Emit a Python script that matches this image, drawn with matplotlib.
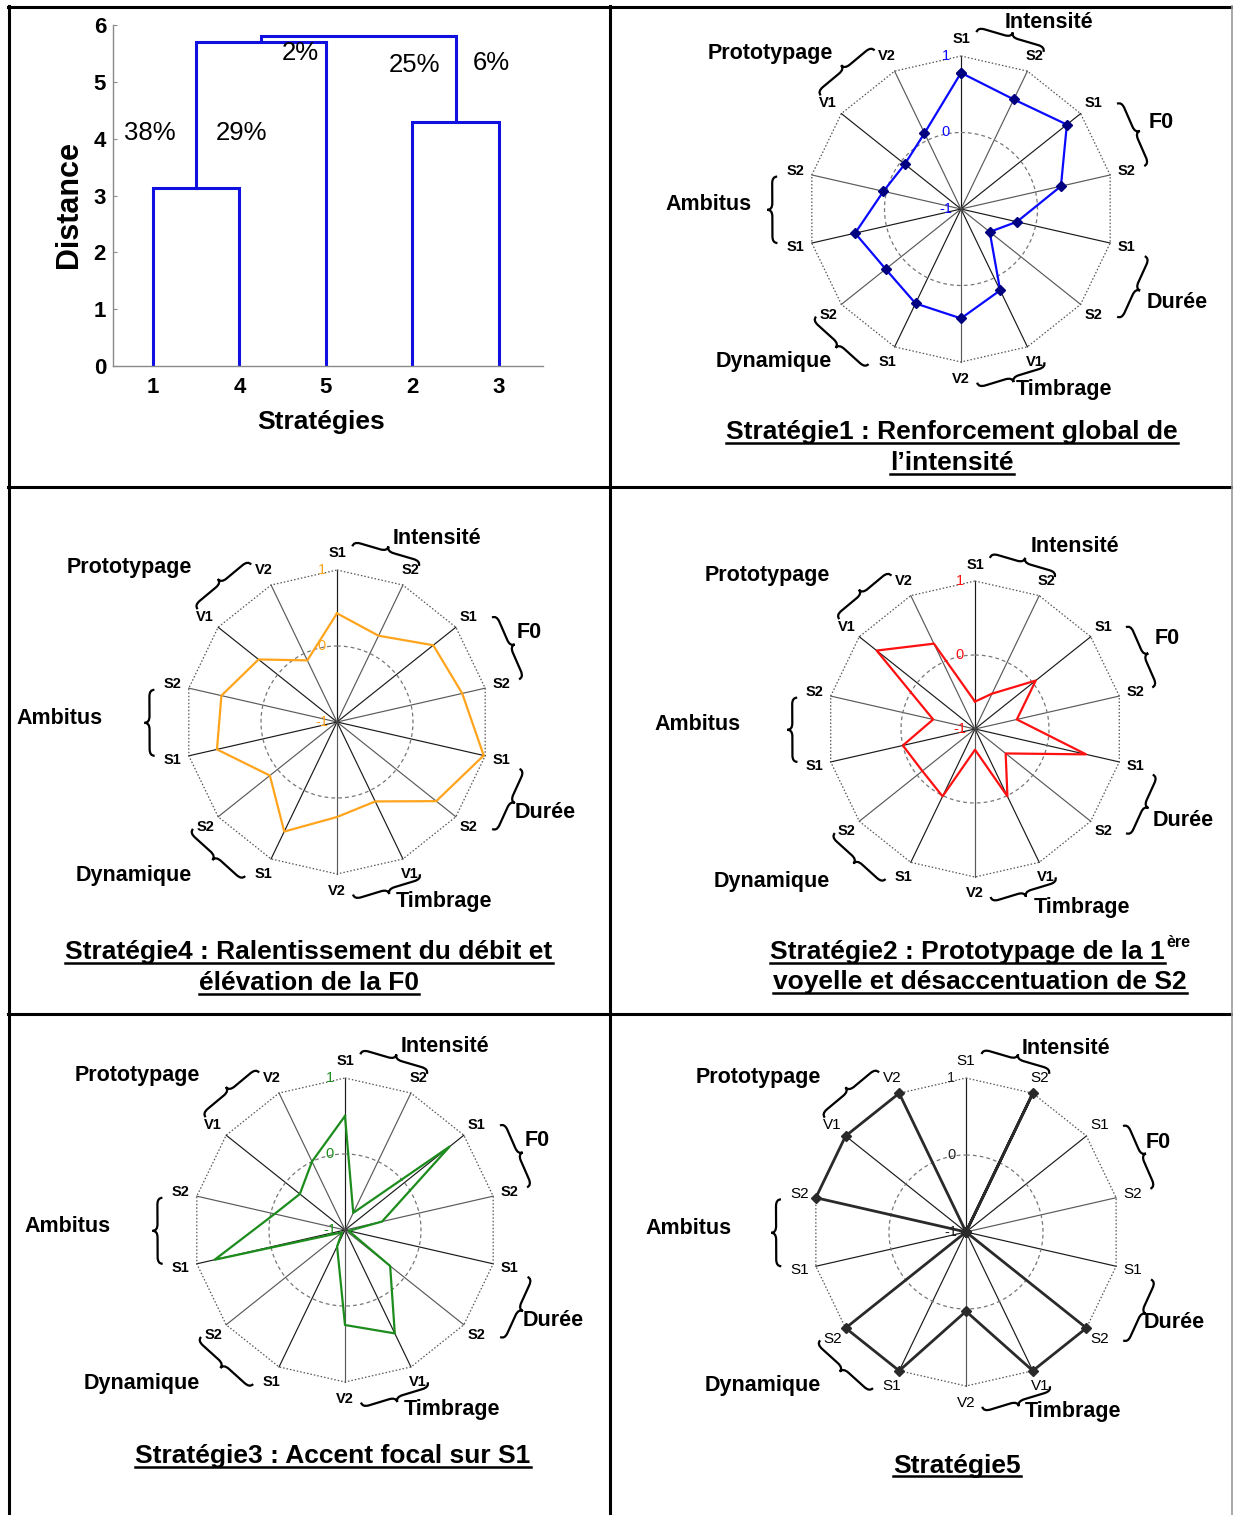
import numpy as np
import matplotlib
matplotlib.use('Agg')
import matplotlib.pyplot as plt
from matplotlib.path import Path
from matplotlib.patches import PathPatch

plt.rcParams['font.family'] = ['Liberation Sans', 'DejaVu Sans']

# ---------------- data ----------------
leaf_labels = ['1', '4', '5', '2', '3']
merge_left = [0, 5, 3, 6]
merge_right = [1, 2, 4, 7]
merge_height = [3.13, 5.70, 4.30, 5.80]
pct_labels = ['38%', '29%', '2%', '25%', '6%']
pct_x = [0.97, 2.02, 2.70, 4.02, 4.91]
pct_y = [4.10, 4.10, 5.51, 5.30, 5.33]

spoke_labels = ['S1', 'S2', 'S1', 'S2', 'S1', 'S2', 'V1', 'V2',
                'S1', 'S2', 'S1', 'S2', 'V1', 'V2']
groups = ['Intensité', 'F0', 'Durée', 'Timbrage', 'Dynamique', 'Ambitus', 'Prototypage']
ring_labels = ['1', '0', '-1']
ring_values = [1, 0, -1]

strat1 = [0.78, 0.59, 0.77, 0.34, -0.25, -0.52, 0.18, 0.43, 0.37, 0.26, 0.42, 0.04, -0.06, 0.10]
strat4 = [0.43, 0.26, 0.62, 0.69, 0.98, 0.67, 0.16, 0.25, 0.60, 0.13, 0.62, 0.56, 0.32, -0.10]
strat2 = [-0.63, -0.47, 0.05, -0.42, 0.54, -0.47, 0.01, -0.72, 0.01, -0.09, 0.00, -0.42, 0.70, 0.28]
strat3 = [0.50, -0.75, 0.76, -0.50, -0.95, -0.24, 0.51, 0.25, -0.76, -0.95, 0.76, -0.05, -0.24, 0.00]
strat5 = [-1, 1, -1, -1, -1, 1, 1, 0.03, 1, 1, -1, 1, 1, 1]

# ---------------- figure ----------------
W, H = 1233, 1515
fig = plt.figure(figsize=(W / 100, H / 100), dpi=100)

# ---------------- dendrogram ----------------
axd = fig.add_axes([113 / W, (H - 366) / H, 430 / W, 341 / H])
xpos = {i: float(i + 1) for i in range(len(leaf_labels))}
hgt = {i: 0.0 for i in range(len(leaf_labels))}
nid = len(leaf_labels)
for l, r, h in zip(merge_left, merge_right, merge_height):
    axd.plot([xpos[l], xpos[l], xpos[r], xpos[r]], [hgt[l], h, h, hgt[r]],
             color='#1010e0', lw=2.2, solid_joinstyle='miter')
    xpos[nid] = (xpos[l] + xpos[r]) / 2
    hgt[nid] = h
    nid += 1
for t, x, y in zip(pct_labels, pct_x, pct_y):
    axd.text(x, y, t, ha='center', va='center', fontsize=18.5, color='black')
axd.set_xlim(0.54, 5.51)
axd.set_ylim(0, 6)
axd.set_xticks(range(1, len(leaf_labels) + 1))
axd.set_xticklabels(leaf_labels)
axd.set_yticks(range(0, 7))
for s in ['top', 'right']:
    axd.spines[s].set_visible(False)
for s in ['left', 'bottom']:
    axd.spines[s].set_color('#8a8a8a')
    axd.spines[s].set_linewidth(1.0)
axd.tick_params(axis='both', direction='in', length=3, color='#8a8a8a', labelsize=16)
axd.tick_params(axis='x', pad=8)
axd.tick_params(axis='y', pad=5)
for lab in axd.get_xticklabels() + axd.get_yticklabels():
    lab.set_fontweight('bold')
axd.set_ylabel('Distance', fontsize=22, fontweight='bold')
axd.yaxis.set_label_coords(-0.068, 0.475)
axd.set_xlabel('Stratégies', fontsize=19, fontweight='bold')
axd.xaxis.set_label_coords(0.484, -0.128)

# ---------------- overlay ----------------
ov = fig.add_axes([0, 0, 1, 1], zorder=10)
ov.set_xlim(0, W)
ov.set_ylim(H, 0)
ov.axis('off')
ov.patch.set_alpha(0)

# table lines
ov.plot([8, 1232], [6.5, 6.5], color='black', lw=2.2)
ov.plot([8.5, 8.5], [6, H], color='black', lw=2.2)
ov.plot([609.5, 609.5], [6, H], color='black', lw=2.2)
ov.plot([8, 1232], [487, 487], color='black', lw=2.2)
ov.plot([8, 1232], [1014, 1014], color='black', lw=2.2)
ov.plot([1231.5, 1231.5], [6, H], color='#9a9a9a', lw=1.2)

N = len(spoke_labels)
theta = np.arange(N) * 2 * np.pi / N

brace_geom = [(5, 27.7, 1.16), (56, 76.8, 1.23), (104.4, 124.6, 1.24), (151.5, 174.7, 1.14),
              (210.8, 233.4, 1.18), (259.5, 280, 1.22), (309, 331.4, 1.18)]
label_off_a = [(88, 187), (200, 87), (216, -94), (103, -181), (-187, -153), (-252, 4), (-191, 156)]
label_off_b = [(100, 183), (192, 90), (208, -91), (107, -179), (-203, -153), (-277, 4), (-208, 154)]


def brace(p1, p2, center, h=10, lw=1.6):
    p1 = np.array(p1, float)
    p2 = np.array(p2, float)
    d = p2 - p1
    L = np.linalg.norm(d)
    u = d / L
    n = np.array([-u[1], u[0]])
    mid = (p1 + p2) / 2
    if np.dot(mid - np.array(center), n) < 0:
        n = -n

    def P(s, o):
        return p1 + u * s * L + n * o * h
    verts = [P(0, 0), P(0, 0.5), P(0.1, 0.5), P(0.4, 0.5), P(0.5, 0.5), P(0.5, 1.0),
             P(0.5, 0.5), P(0.6, 0.5), P(0.9, 0.5), P(1, 0.5), P(1, 0)]
    codes = [Path.MOVETO, Path.CURVE3, Path.CURVE3, Path.LINETO, Path.CURVE3, Path.CURVE3,
             Path.CURVE3, Path.CURVE3, Path.LINETO, Path.CURVE3, Path.CURVE3]
    ov.add_patch(PathPatch(Path(verts, codes), fill=False, lw=lw, color='black'))


def radar(cx, cy, R, values, color, marker=None, mcolor=None, lw=1.6,
          offs=label_off_b, bold=True, tick_color=None):
    ax = fig.add_axes([(cx - R) / W, (H - cy - R) / H, 2 * R / W, 2 * R / H],
                      projection='polar', zorder=5)
    ax.set_theta_zero_location('N')
    ax.set_theta_direction(-1)
    ax.set_ylim(-1, 1)
    ax.axis('off')
    for i, t in enumerate(theta):
        ax.plot([t, t], [-1, 1], color='#1a1a1a' if i % 2 == 0 else '#5a5a5a',
                lw=0.85, clip_on=False)
    tc = np.append(theta, theta[0])
    ax.plot(tc, np.ones(N + 1), linestyle=(0, (1.2, 1.6)), color='#555555', lw=0.9, clip_on=False)
    tt = np.linspace(0, 2 * np.pi, 240)
    ax.plot(tt, np.zeros_like(tt), linestyle=(0, (3, 2.5)), color='#777777', lw=0.9, clip_on=False)
    vals = np.append(values, values[0])
    ax.plot(tc, vals, color=color, lw=lw, marker=marker, markersize=5,
            markerfacecolor=mcolor, markeredgecolor=mcolor, clip_on=False, zorder=6)
    # spoke labels
    for t, lab in zip(theta, spoke_labels):
        ax.text(t, -1 + 2 * 1.11, lab, ha='center', va='center',
                fontsize=10.5 if bold else 11,
                fontweight='bold' if bold else 'normal', clip_on=False)
    # ring numbers
    tcol = tick_color or color
    for lab, v in zip(ring_labels, ring_values):
        ov.text(cx - 15, cy - (v + 1) / 2 * R, lab, ha='center', va='center',
                fontsize=10.5, color=tcol)
    # group labels and braces
    for k, g in enumerate(groups):
        dx, dy = offs[k]
        ov.text(cx + dx, cy - dy, g, ha='center', va='center', fontsize=15.5, fontweight='bold')
        a1, a2, rr = brace_geom[k]
        p1 = (cx + rr * R * np.sin(np.radians(a1)), cy - rr * R * np.cos(np.radians(a1)))
        p2 = (cx + rr * R * np.sin(np.radians(a2)), cy - rr * R * np.cos(np.radians(a2)))
        brace(p1, p2, (cx, cy))
    return ax


radar(961, 209, 153, strat1, '#0a0aff', marker='D', mcolor='#000080', offs=label_off_a)
radar(337, 722, 152, strat4, '#ffa41c')
radar(975, 729, 148, strat2, '#ff1010')
radar(345, 1230, 152, strat3, '#1c8c1c')
radar(966, 1232, 154, strat5, '#2a2a2a', marker='D', mcolor='#2a2a2a', lw=2.0,
      bold=False, tick_color='#222222')

# ---------------- titles ----------------
TFS = 19
titles = []


def title(x, y, s, ha='center'):
    t = ov.text(x, y, s, ha=ha, va='baseline', fontsize=TFS, fontweight='bold')
    titles.append((t, y))
    return t


title(952, 439.5, 'Stratégie1 : Renforcement global de')
title(952, 470.5, 'l’intensité')
title(309, 959.5, 'Stratégie4 : Ralentissement du débit et')
title(309, 990.5, 'élévation de la F0')
title(1165, 959.5, 'Stratégie2 : Prototypage de la 1', ha='right')
ov.text(1166, 947, 'ère', ha='left', va='baseline', fontsize=11.5, fontweight='bold')
title(980, 989.5, 'voyelle et désaccentuation de S2')
title(333, 1463.5, 'Stratégie3 : Accent focal sur S1')
title(957, 1472.5, 'Stratégie5')

fig.canvas.draw()
renderer = fig.canvas.get_renderer()
inv = ov.transData.inverted()
for t, y in titles:
    bb = t.get_window_extent(renderer)
    x0 = inv.transform((bb.x0, bb.y0))[0]
    x1 = inv.transform((bb.x1, bb.y0))[0]
    ov.plot([x0, x1], [y + 3, y + 3], color='black', lw=1.8)

fig.savefig('out.png', dpi=100)
